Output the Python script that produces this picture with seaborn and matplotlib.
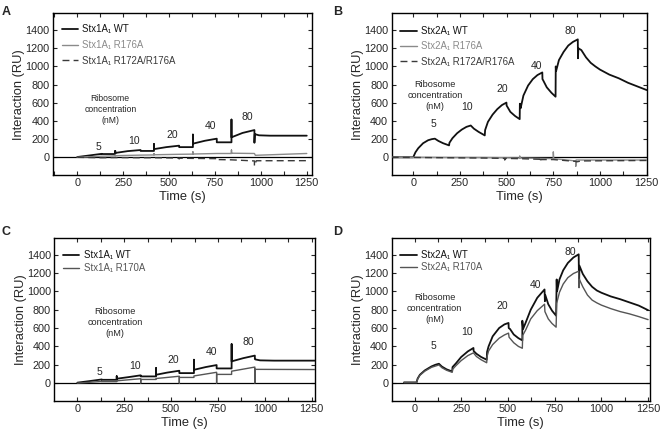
import numpy as np
import pandas as pd
import matplotlib
matplotlib.use('Agg')
import matplotlib.pyplot as plt
from matplotlib.lines import Line2D
from matplotlib.ticker import MultipleLocator
import seaborn as sns

# ---- data (time in s, response in RU) ----
# Panel A
a_wt_t = [0, 65, 133, 133, 207, 207, 207, 275, 345, 345, 418, 418, 418, 485, 555, 555, 630, 630, 630, 695, 760, 760, 840, 840, 840, 900, 965, 965, 967, 990, 1050, 1250]
a_wt_y = [3, 20, 38, 36, 36, 70, 48, 68, 80, 70, 70, 145, 90, 112, 128, 112, 112, 250, 150, 182, 205, 165, 165, 415, 220, 268, 300, 160, 255, 242, 238, 238]
a_m1_t = [0, 133, 207, 207, 207, 345, 418, 418, 418, 555, 630, 630, 630, 760, 840, 840, 840, 965, 970, 1250]
a_m1_y = [0, 12, 16, 25, 18, 24, 26, 40, 28, 33, 35, 60, 36, 42, 42, 80, 45, 42, 22, 42]
a_m2_t = [0, 133, 207, 345, 418, 555, 555, 557, 630, 760, 760, 762, 840, 965, 965, 975, 1250]
a_m2_y = [0, -5, -3, -5, -5, -8, -18, -10, -12, -15, -30, -25, -28, -40, -95, -38, -37]

# Panel B
b_wt_t = [-115, 0, 12, 27, 53, 80, 100, 116, 135, 160, 192, 194, 210, 235, 260, 285, 308, 325, 350, 383, 385, 400, 425, 450, 475, 499, 500, 520, 545, 570, 571, 575, 590, 615, 640, 665, 691, 692, 695, 715, 740, 762, 763, 765, 780, 805, 830, 855, 881, 882, 884, 900, 925, 950, 975, 1000, 1050, 1100, 1150, 1200, 1250]
b_wt_y = [0, 0, 55, 100, 155, 188, 200, 205, 180, 155, 131, 160, 210, 265, 305, 335, 350, 315, 280, 241, 300, 390, 470, 530, 575, 602, 570, 500, 455, 420, 590, 540, 680, 790, 860, 905, 934, 860, 850, 770, 710, 667, 1000, 950, 1070, 1160, 1230, 1270, 1298, 1090, 1200, 1180, 1100, 1040, 1000, 965, 910, 870, 820, 780, 740]
b_m1_t = [-115, 0, 190, 380, 490, 570, 570, 572, 680, 750, 750, 752, 800, 870, 870, 872, 1250]
b_m1_y = [0, 0, -2, -3, -5, -8, 15, -8, -12, -15, 60, -15, -25, -40, -100, -30, -30]
b_m2_t = [-115, 0, 190, 380, 490, 490, 492, 570, 680, 680, 682, 750, 870, 875, 900, 1250]
b_m2_y = [0, -2, -5, -8, -12, -30, -12, -15, -22, -50, -25, -25, -45, -50, -40, -35]

# Panel C
c_wt_t = [0, 65, 130, 130, 210, 210, 210, 275, 338, 338, 420, 420, 420, 480, 544, 544, 622, 622, 622, 685, 743, 743, 823, 823, 823, 885, 947, 947, 950, 975, 1050, 1268]
c_wt_y = [5, 22, 40, 36, 36, 75, 48, 66, 85, 73, 73, 164, 91, 115, 135, 109, 109, 255, 145, 175, 197, 160, 160, 425, 237, 272, 300, 262, 258, 248, 245, 245]
c_m1_t = [0, 130, 130, 210, 210, 338, 338, 338, 420, 420, 544, 544, 544, 622, 622, 743, 743, 743, 823, 823, 947, 947, 947, 1268]
c_m1_y = [0, 18, 16, 16, 25, 48, 2, 40, 40, 50, 75, 2, 62, 62, 78, 118, 2, 95, 95, 130, 175, 2, 150, 148]

# Panel D
d_wt_t = [-58, 9, 15, 27, 53, 89, 110, 129, 145, 170, 200, 202, 220, 248, 284, 314, 315, 330, 355, 385, 387, 395, 417, 452, 480, 502, 503, 510, 530, 555, 576, 576, 580, 594, 621, 656, 695, 697, 699, 715, 735, 757, 760, 762, 775, 795, 820, 850, 878, 880, 882, 900, 925, 950, 975, 1000, 1050, 1100, 1150, 1200, 1250]
d_wt_y = [8, 8, 50, 91, 138, 182, 200, 211, 180, 150, 127, 175, 215, 284, 346, 383, 350, 320, 285, 255, 340, 400, 510, 601, 640, 656, 600, 590, 530, 490, 466, 680, 590, 660, 800, 930, 1021, 893, 960, 860, 790, 735, 1130, 1000, 1130, 1230, 1310, 1370, 1404, 1050, 1280, 1190, 1110, 1050, 1010, 985, 945, 915, 880, 845, 795]
d_m1_t = [-58, 9, 15, 27, 53, 89, 129, 145, 170, 200, 202, 220, 248, 284, 314, 330, 355, 385, 387, 395, 417, 452, 480, 502, 505, 530, 555, 576, 578, 594, 621, 656, 695, 697, 715, 735, 757, 760, 775, 795, 820, 850, 878, 880, 882, 900, 925, 950, 975, 1000, 1050, 1100, 1150, 1200, 1250]
d_m1_y = [5, 5, 45, 85, 130, 172, 198, 168, 140, 118, 150, 190, 245, 300, 330, 290, 255, 222, 290, 350, 420, 490, 525, 545, 500, 440, 400, 380, 520, 580, 700, 790, 860, 780, 700, 650, 610, 870, 990, 1080, 1150, 1195, 1220, 1040, 1130, 1050, 960, 905, 875, 850, 812, 780, 755, 725, 692]

# concentration labels (nM) and their anchor points per panel
conc_labels = ['5', '10', '20', '40', '80']
a_conc_t = [116, 307, 519, 728, 925]
a_conc_y = [116, 182, 244, 342, 444]
b_conc_t = [107, 288, 477, 659, 841]
b_conc_y = [372, 553, 755, 1010, 1386]
c_conc_t = [116, 308, 512, 717, 912]
c_conc_y = [116, 189, 255, 342, 452]
d_conc_t = [101, 280, 470, 647, 833]
d_conc_y = [400, 561, 838, 1065, 1429]

SUB = '\u2081'
styles = {
    'wt': dict(color='#111111', lw=1.3, dash=''),
    'm1': dict(color='#8a8a8a', lw=1.0, dash=''),
    'm2': dict(color='#3a3a3a', lw=1.0, dash=(5, 3)),
    'm170': dict(color='#555555', lw=1.0, dash=''),
}

sns.set_theme(style='ticks')
plt.rcParams['font.family'] = ['Liberation Sans', 'DejaVu Sans']

fig = plt.figure(figsize=(6.6, 4.33), dpi=100)

panels = [
    dict(letter='A', rect=[0.0803, 0.5958, 0.392, 0.3735], xlim=(-132, 1277),
         series=[('Stx1A' + SUB + ' WT', 'wt', a_wt_t, a_wt_y),
                 ('Stx1A' + SUB + ' R176A', 'm1', a_m1_t, a_m1_y),
                 ('Stx1A' + SUB + ' R172A/R176A', 'm2', a_m2_t, a_m2_y)],
         conc=(a_conc_t, a_conc_y), rib=(180, 530), ribfs=6.2, lspace=0.6,
         lpos=(0.0, 0.985), letter_xy=(0.003, 0.985)),
    dict(letter='B', rect=[0.5935, 0.5958, 0.3864, 0.3735], xlim=(-115, 1250),
         series=[('Stx2A' + SUB + ' WT', 'wt', b_wt_t, b_wt_y),
                 ('Stx2A' + SUB + ' R176A', 'm1', b_m1_t, b_m1_y),
                 ('Stx2A' + SUB + ' R172A/R176A', 'm2', b_m2_t, b_m2_y)],
         conc=(b_conc_t, b_conc_y), rib=(116, 680), ribfs=6.6, lspace=0.55,
         lpos=(0.0, 0.975), letter_xy=(0.505, 0.985)),
    dict(letter='C', rect=[0.0823, 0.0739, 0.395, 0.3771], xlim=(-123, 1268),
         series=[('Stx1A' + SUB + ' WT', 'wt', c_wt_t, c_wt_y),
                 ('Stx1A' + SUB + ' R170A', 'm170', c_m1_t, c_m1_y)],
         conc=(c_conc_t, c_conc_y), rib=(201, 665), ribfs=6.6, lspace=0.28,
         lpos=(0.0, 0.975), letter_xy=(0.003, 0.478)),
    dict(letter='D', rect=[0.5935, 0.0739, 0.3913, 0.3771], xlim=(-124, 1260),
         series=[('Stx2A' + SUB + ' WT', 'wt', d_wt_t, d_wt_y),
                 ('Stx2A' + SUB + ' R170A', 'm170', d_m1_t, d_m1_y)],
         conc=(d_conc_t, d_conc_y), rib=(106, 810), ribfs=6.6, lspace=0.18,
         lpos=(0.0, 0.975), letter_xy=(0.505, 0.478)),
]

for p in panels:
    ax = fig.add_axes(p['rect'])
    frames = []
    for label, key, t, y in p['series']:
        frames.append(pd.DataFrame({'time': t, 'ru': y, 'series': label}))
    df = pd.concat(frames, ignore_index=True)
    order = [s[0] for s in p['series']]
    pal = {s[0]: styles[s[1]]['color'] for s in p['series']}
    dsh = {s[0]: styles[s[1]]['dash'] for s in p['series']}
    szs = {s[0]: styles[s[1]]['lw'] for s in p['series']}
    ax.axhline(0, color='black', lw=0.9, zorder=1)
    sns.lineplot(data=df, x='time', y='ru', hue='series', style='series', size='series',
                 hue_order=order, style_order=order, size_order=order,
                 palette=pal, dashes=dsh, sizes=szs, estimator=None, sort=False,
                 legend=False, ax=ax, zorder=3)

    ax.set_xlim(*p['xlim'])
    ax.xaxis.set_major_locator(MultipleLocator(250))
    ax.xaxis.set_minor_locator(MultipleLocator(125))
    yt = list(range(-200, 1601, 200))
    ax.set_yticks(yt)
    ax.set_yticklabels(['' if v < 0 else str(v) for v in yt])
    ax.set_ylim(-195, 1585)
    ax.tick_params(axis='both', which='both', direction='in', top=True, right=True,
                   labelsize=7.8, width=0.8, length=3, pad=2.5)
    for sp in ax.spines.values():
        sp.set_linewidth(1.0)
        sp.set_color('black')
    ax.set_xlabel('Time (s)', fontsize=9.3, labelpad=1.5)
    ax.set_ylabel('Interaction (RU)', fontsize=9.3, labelpad=0)

    handles = []
    for label, key, t, y in p['series']:
        st = styles[key]
        ls = (0, st['dash']) if st['dash'] else '-'
        handles.append(Line2D([], [], color=st['color'], lw=st['lw'], linestyle=ls))
    leg = ax.legend(handles, order, loc='upper left', bbox_to_anchor=p['lpos'],
                    frameon=False, fontsize=6.9, handlelength=1.7, handletextpad=0.45,
                    labelspacing=p['lspace'], borderaxespad=0.5)
    for txt, (label, key, t, y) in zip(leg.get_texts(), p['series']):
        txt.set_color(styles[key]['color'])

    ct, cy = p['conc']
    for lab, tx, ty in zip(conc_labels, ct, cy):
        ax.text(tx, ty, lab, ha='center', va='center', fontsize=7.5)
    ax.text(p['rib'][0], p['rib'][1], 'Ribosome\nconcentration\n(nM)', ha='center',
            va='center', fontsize=p['ribfs'], linespacing=1.3)

    fig.text(p['letter_xy'][0], p['letter_xy'][1], p['letter'], fontsize=9,
             fontweight='bold', ha='left', va='top')

fig.savefig('out.png', dpi=100)
